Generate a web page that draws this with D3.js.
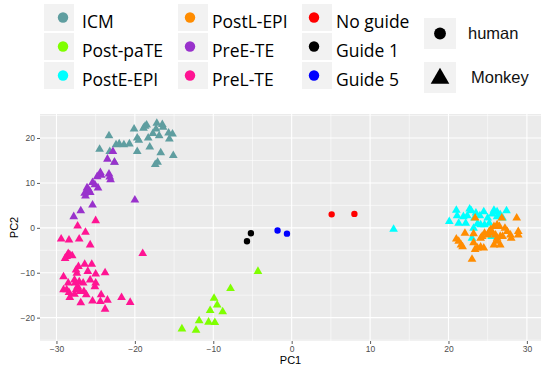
<!DOCTYPE html>
<html>
<head>
<meta charset="utf-8">
<script src="https://cdn.jsdelivr.net/npm/d3@7"></script>
<style>
  body { margin: 0; background: #fff; }
  svg { display: block; }
</style>
</head>
<body>
<script>
var screenWidth = 560;
var screenHeight = 369;

// groups (name, colour, shape)
var groups = ["ICM", "Post-paTE", "PostE-EPI", "PostL-EPI", "PreE-TE", "PreL-TE", "No guide", "Guide 1", "Guide 5"];
var colours = ["#5F9EA0", "#7FFF00", "#00FFFF", "#FF8C00", "#9932CC", "#FF1493", "#FF0000", "#000000", "#0000FF"];
var species = ["human", "Monkey"];

var xTicks = [-30, -20, -10, 0, 10, 20, 30];
var yTicks = [-20, -10, 0, 10, 20];

// PC1, PC2 per group
var icm = [[-23.3,20.5],[-24.5,17.5],[-23.2,17.0],[-22.4,18.5],[-22.0,18.7],[-21.4,18.5],[-20.7,18.7],[-20.1,22.0],[-19.7,20.0],[-19.5,19.5],[-19.7,17.0],[-18.9,22.2],[-18.7,22.6],[-18.5,22.9],[-18.3,20.0],[-18.1,18.0],[-17.7,21.0],[-17.4,14.1],[-17.1,14.6],[-17.2,23.3],[-16.9,20.5],[-16.7,16.7],[-16.5,23.0],[-16.4,22.4],[-15.7,21.1],[-15.6,19.8],[-15.2,20.9],[-15.1,16.1],[-17.3,22.0],[-22.6,14.6]];
var preETE = [[-22.8,17.0],[-23.5,15.3],[-22.6,14.6],[-24.4,12.3],[-24.3,11.7],[-24.8,11.4],[-23.3,12.0],[-23.2,11.3],[-23.1,10.7],[-25.4,10.1],[-24.7,8.9],[-25.1,9.6],[-26.1,8.9],[-25.9,8.5],[-26.3,7.1],[-25.7,7.9],[-26.0,8.2],[-26.4,7.7],[-25.4,5.1],[-26.9,3.8],[-27.8,2.5],[-20.0,6.2]];
var preLTE = [[-27.3,0.4],[-25.0,1.6],[-29.4,-2.5],[-28.4,-2.7],[-26.3,-1.0],[-27.1,-2.5],[-25.7,-3.8],[-28.5,-5.7],[-28.7,-6.4],[-28.9,-6.8],[-28.3,-6.0],[-28.0,-6.2],[-19.0,-5.7],[-27.2,-8.6],[-27.5,-9.4],[-27.4,-10.1],[-26.4,-8.1],[-25.5,-8.1],[-26.0,-9.7],[-25.0,-10.3],[-23.8,-10.0],[-29.1,-10.9],[-28.5,-12.3],[-28.7,-13.8],[-28.4,-14.4],[-27.7,-11.6],[-27.6,-12.3],[-27.3,-13.1],[-27.1,-12.0],[-27.5,-13.8],[-27.0,-14.2],[-27.7,-14.8],[-26.6,-12.3],[-26.5,-14.2],[-25.7,-11.6],[-25.0,-12.3],[-25.1,-13.1],[-26.2,-14.9],[-26.9,-16.7],[-25.4,-16.3],[-24.3,-14.9],[-24.4,-16.4],[-23.5,-16.1],[-23.8,-18.1],[-21.7,-15.5],[-20.6,-16.6],[-29.1,-13.8],[-28.3,-15.5]];
var postPaTE = [[-14.0,-22.5],[-12.2,-22.8],[-11.8,-20.7],[-10.6,-21.0],[-9.8,-21.1],[-10.4,-18.4],[-9.5,-17.2],[-9.9,-15.7],[-8.8,-18.7],[-7.8,-13.5],[-4.3,-9.7]];
var postEEPI = [[13.0,-0.3],[20.1,1.4],[21.0,3.9],[21.1,2.7],[21.3,1.0],[21.9,2.5],[22.2,1.0],[22.7,4.2],[22.9,3.8],[23.3,2.2],[23.7,0.9],[24.1,0.7],[24.0,2.7],[24.5,3.6],[25.0,2.2],[25.2,1.0],[25.6,3.1],[25.8,3.9],[26.2,3.6],[26.2,2.5],[26.6,2.9],[26.9,2.2],[27.4,3.8],[23.0,-2.3],[24.6,0.7],[22.4,2.7],[23.5,3.3],[25.5,-1.9],[23.2,-0.1]];
var postLEPI = [[23.4,2.2],[28.7,2.2],[22.1,-1.2],[21.0,-2.5],[21.3,-3.0],[21.6,-3.8],[21.8,-4.2],[23.2,-1.3],[23.2,-3.3],[23.0,-7.0],[23.4,-4.8],[23.7,-4.5],[24.1,-4.3],[24.5,-4.5],[24.1,-2.3],[24.3,-1.9],[25.0,-1.6],[25.4,-0.4],[25.8,0.3],[26.2,0.7],[26.5,0.3],[25.2,-0.8],[26.0,-1.6],[25.8,-3.8],[26.6,-3.8],[26.2,-3.0],[26.8,2.2],[26.9,-1.9],[27.2,-0.1],[27.5,-0.8],[27.9,-1.6],[28.0,-2.3],[28.9,-0.8],[28.9,-1.6],[24.6,-1.2],[26.6,-1.9],[25.6,-1.2],[26.2,-2.3]];
var noGuide = [[5.1,3.0],[8.0,3.1]];
var guide1 = [[-5.7,-3.0],[-5.2,-1.2]];
var guide5 = [[-1.8,-0.6],[-0.6,-1.3]];

// draw order, with shape: 0 = human (circle), 1 = Monkey (triangle)
var layers = [
  { g: 0, s: 1, pts: icm },
  { g: 4, s: 1, pts: preETE },
  { g: 5, s: 1, pts: preLTE },
  { g: 1, s: 1, pts: postPaTE },
  { g: 2, s: 1, pts: postEEPI },
  { g: 3, s: 1, pts: postLEPI },
  { g: 6, s: 0, pts: noGuide },
  { g: 7, s: 0, pts: guide1 },
  { g: 8, s: 0, pts: guide5 }
];

var panel = { left: 40, right: 541, top: 114, bottom: 341 };

var x = d3.scaleLinear().domain([-32.1, 31.8]).range([panel.left, panel.right]);
var y = d3.scaleLinear().domain([-25.2, 25.35]).range([panel.bottom, panel.top]);

var svg = d3.select("body").append("svg")
  .attr("width", screenWidth)
  .attr("height", screenHeight);

// panel background
svg.append("rect")
  .attr("x", panel.left).attr("y", panel.top)
  .attr("width", panel.right - panel.left)
  .attr("height", panel.bottom - panel.top)
  .attr("fill", "#EBEBEB");

// minor grid
var xMinor = xTicks.slice(0, -1).map(function(d) { return d + 5; }).concat([-35]);
var yMinor = yTicks.slice(0, -1).map(function(d) { return d + 5; }).concat([-25, 25]);

var grid = svg.append("g");
grid.selectAll(".xminor").data(xMinor.filter(function(d){ return x(d) >= panel.left; }))
  .enter().append("line")
  .attr("x1", function(d){ return x(d); }).attr("x2", function(d){ return x(d); })
  .attr("y1", panel.top).attr("y2", panel.bottom)
  .attr("stroke", "#fff").attr("stroke-width", 0.55);
grid.selectAll(".yminor").data(yMinor.filter(function(d){ return y(d) >= panel.top && y(d) <= panel.bottom; }))
  .enter().append("line")
  .attr("y1", function(d){ return y(d); }).attr("y2", function(d){ return y(d); })
  .attr("x1", panel.left).attr("x2", panel.right)
  .attr("stroke", "#fff").attr("stroke-width", 0.55);
grid.selectAll(".xmajor").data(xTicks)
  .enter().append("line")
  .attr("x1", function(d){ return x(d); }).attr("x2", function(d){ return x(d); })
  .attr("y1", panel.top).attr("y2", panel.bottom)
  .attr("stroke", "#fff").attr("stroke-width", 1.1);
grid.selectAll(".ymajor").data(yTicks)
  .enter().append("line")
  .attr("y1", function(d){ return y(d); }).attr("y2", function(d){ return y(d); })
  .attr("x1", panel.left).attr("x2", panel.right)
  .attr("stroke", "#fff").attr("stroke-width", 1.1);

// axes
var xAxis = svg.append("g")
  .attr("transform", "translate(0," + panel.bottom + ")")
  .call(d3.axisBottom(x).tickValues(xTicks).tickSize(3).tickPadding(2));
var yAxis = svg.append("g")
  .attr("transform", "translate(" + panel.left + ",0)")
  .call(d3.axisLeft(y).tickValues(yTicks).tickSize(3).tickPadding(2));
[xAxis, yAxis].forEach(function(a) {
  a.select(".domain").remove();
  a.selectAll(".tick line").attr("stroke", "#333").attr("stroke-width", 0.8);
  a.selectAll(".tick text")
    .attr("fill", "#4D4D4D")
    .style("font-family", "'Liberation Sans', Arial, sans-serif")
    .style("font-size", "8.5px");
});

svg.append("text")
  .attr("x", (panel.left + panel.right) / 2).attr("y", 364)
  .attr("text-anchor", "middle")
  .style("font-family", "'Liberation Sans', Arial, sans-serif")
  .style("font-size", "11px")
  .attr("fill", "#000")
  .text("PC1");
svg.append("text")
  .attr("transform", "translate(18," + (panel.top + panel.bottom) / 2 + ") rotate(-90)")
  .attr("text-anchor", "middle")
  .style("font-family", "'Liberation Sans', Arial, sans-serif")
  .style("font-size", "11px")
  .attr("fill", "#000")
  .text("PC2");

// points
var tri = d3.symbol().type(d3.symbolTriangle).size(33);
var circ = d3.symbol().type(d3.symbolCircle).size(32);

var pts = svg.append("g");
layers.forEach(function(l) {
  pts.selectAll(null).data(l.pts).enter().append("path")
    .attr("d", l.s === 1 ? tri : circ)
    .attr("transform", function(d) { return "translate(" + x(d[0]) + "," + y(d[1]) + ")"; })
    .attr("fill", colours[l.g]);
});

// colour legend: three columns of three
var colX = [44, 178, 302];
var legend = svg.append("g");
groups.forEach(function(name, i) {
  var col = Math.floor(i / 3), row = i % 3;
  var bx = colX[col], by = 4 + row * 29;
  legend.append("rect")
    .attr("x", bx).attr("y", by).attr("width", 30).attr("height", 27)
    .attr("fill", "#F2F2F2");
  legend.append("circle")
    .attr("cx", bx + (col === 0 ? 19 : 12)).attr("cy", by + 13.5)
    .attr("r", 5.2)
    .attr("fill", colours[i]);
  legend.append("text")
    .attr("x", bx + (col === 0 ? 38 : 34)).attr("y", by + 24)
    .style("font-family", "'Open Sans', 'Noto Sans', sans-serif")
    .style("font-size", "17.5px")
    .attr("fill", "#000")
    .text(name);
});

// shape legend
var shapeY = [18, 62];
species.forEach(function(name, i) {
  legend.append("rect")
    .attr("x", 424).attr("y", shapeY[i]).attr("width", 32).attr("height", 31)
    .attr("fill", "#F2F2F2");
  legend.append("path")
    .attr("d", d3.symbol().type(i === 0 ? d3.symbolCircle : d3.symbolTriangle).size(i === 0 ? 110 : 150)())
    .attr("transform", "translate(440," + (shapeY[i] + 15.5 + (i === 1 ? 1 : 0)) + ")")
    .attr("fill", "#000");
  legend.append("text")
    .attr("x", i === 0 ? 468 : 471).attr("y", shapeY[i] + 21)
    .style("font-family", "'Liberation Sans', Arial, sans-serif")
    .style("font-size", "16.5px")
    .attr("fill", "#111")
    .text(name);
});
</script>
</body>
</html>
